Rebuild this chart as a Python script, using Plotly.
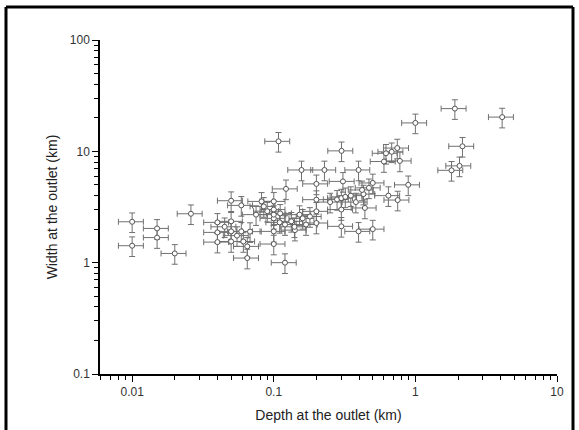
import plotly.graph_objects as go

# depth (km) and width (km)
depth = [
    0.010, 0.010, 0.015, 0.015, 0.020, 0.026,
    0.040, 0.040, 0.040, 0.050, 0.050, 0.050, 0.050, 0.059, 0.059, 0.061,
    0.065, 0.065, 0.068, 0.082, 0.075, 0.085, 0.090, 0.055, 0.045,
    0.100, 0.100, 0.100, 0.100, 0.100, 0.100, 0.111, 0.122, 0.108, 0.120,
    0.133, 0.141, 0.152, 0.157, 0.169, 0.110, 0.120, 0.140, 0.160, 0.180,
    0.200, 0.200, 0.200, 0.200, 0.228, 0.250, 0.280,
    0.301, 0.308, 0.300, 0.300, 0.300, 0.320, 0.350, 0.380,
    0.397, 0.397, 0.430, 0.440, 0.420, 0.470, 0.500, 0.500,
    0.600, 0.620, 0.680, 0.645, 0.745, 0.777, 0.750, 0.890,
    1.00, 1.90, 4.10, 2.15, 1.80, 2.05,
]
width = [
    2.33, 1.42, 2.03, 1.68, 1.21, 2.75,
    2.30, 1.87, 1.53, 3.60, 2.35, 1.91, 1.55, 3.27, 1.91, 1.55,
    1.40, 1.10, 1.90, 3.55, 2.70, 3.20, 2.90, 1.75, 2.10,
    3.55, 3.00, 2.50, 2.70, 1.91, 1.47, 2.77, 4.60, 12.3, 1.00,
    2.35, 1.96, 2.70, 6.80, 2.20, 2.30, 2.20, 2.10, 2.50, 2.60,
    5.10, 3.68, 2.89, 2.27, 6.80, 3.50, 3.70,
    10.1, 5.37, 3.80, 3.00, 2.12, 3.90, 4.00, 3.50,
    6.80, 1.91, 4.13, 3.10, 4.50, 4.70, 5.20, 2.00,
    8.10, 9.60, 9.90, 4.00, 10.7, 8.20, 3.65, 5.00,
    18.0, 24.2, 20.3, 11.1, 6.75, 7.40,
]
rel_error = 20  # percent, both axes

x_ticks = [0.01, 0.1, 1, 10]
x_labels = ["0.01", "0.1", "1", "10"]
y_ticks = [0.1, 1, 10, 100]
y_labels = ["0.1", "1", "10", "100"]

x_range = [-2.227, 1]
y_range = [-1, 2]

err_style = dict(type="percent", value=rel_error, color="#707070",
                 thickness=1, width=3)

fig = go.Figure(go.Scatter(
    x=depth, y=width, mode="markers",
    marker=dict(symbol="circle", size=5, color="white",
                line=dict(color="#555555", width=1)),
    error_x=err_style, error_y=err_style,
    showlegend=False,
))

# one major tick per decade, minor ticks at 2..9 (D1)
axis_common = dict(
    type="log", showline=True, linecolor="black", linewidth=1.5,
    tickmode="linear", tick0=0, dtick=1,
    ticks="outside", ticklen=6, tickwidth=1.3, tickcolor="black",
    showgrid=False, zeroline=False, mirror=False, automargin=False,
    tickfont=dict(size=12, color="#333333"),
    minor=dict(ticks="outside", ticklen=4, tickwidth=1.2, tickcolor="black",
               dtick="D1", showgrid=False),
)

fig.update_layout(
    width=579, height=430,
    margin=dict(l=100, r=22, t=40, b=56),
    paper_bgcolor="white", plot_bgcolor="white",
    font=dict(family="Arial, Liberation Sans, sans-serif", color="#222222"),
    xaxis=dict(axis_common, range=x_range,
               labelalias={str(v): s for v, s in zip(x_ticks, x_labels)},
               title=dict(text="Depth at the outlet (km)", font=dict(size=14), standoff=12)),
    yaxis=dict(axis_common, range=y_range,
               labelalias={str(v): s for v, s in zip(y_ticks, y_labels)},
               title=dict(text="Width at the outlet (km)", font=dict(size=14), standoff=9)),
)

# black frame around the figure (bottom edge falls outside the crop)
for x0, y0, x1, y1 in [(-0.2057, -0.2, -0.2057, 1.099), (-0.2057, 1.099, 1.035, 1.099),
                       (1.035, -0.2, 1.035, 1.099)]:
    fig.add_shape(type="line", xref="paper", yref="paper", x0=x0, y0=y0, x1=x1, y1=y1,
                  line=dict(color="black", width=3))

# page body has an 8px default margin; drop it so the figure sits at 0,0
fig.write_html("out.html", config={"displayModeBar": False},
               post_script="document.body.style.margin='0';")
